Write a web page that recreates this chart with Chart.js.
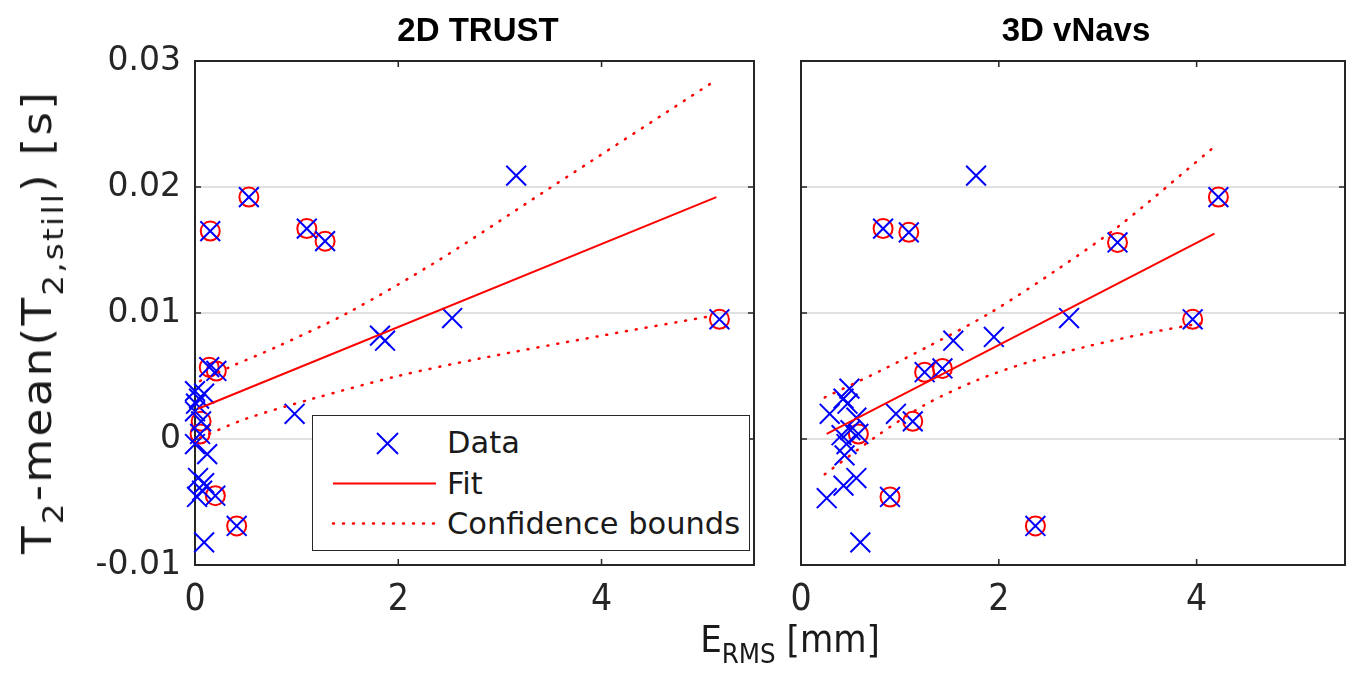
<!DOCTYPE html>
<html><head><meta charset="utf-8">
<script src="https://cdn.jsdelivr.net/npm/chart.js@4.4.1/dist/chart.umd.min.js"></script>
<style>
html,body{margin:0;padding:0;background:#fff;}
#wrap{position:relative;width:1361px;height:692px;overflow:hidden;font-family:"DejaVu Sans",sans-serif;color:#262626;}
canvas{position:absolute;top:0;}
#cA{left:0;} #cB{left:770px;}
.ttl{position:absolute;top:10px;font:bold 33px "Liberation Sans",Arial,sans-serif;color:#000;transform:translateX(-50%);white-space:nowrap;line-height:40px;}
#ylab{position:absolute;left:37px;top:322px;transform:translate(-50%,-50%) rotate(-90deg) scale(1.13,1);font-size:40px;letter-spacing:2px;white-space:nowrap;color:#1a1a1a;}
#xlab{position:absolute;left:790px;top:616px;transform:translateX(-50%);font-size:38px;white-space:nowrap;color:#1a1a1a;font-family:"DejaVu Sans Condensed","DejaVu Sans",sans-serif;line-height:46px;}
sub{font-size:0.72em;vertical-align:-0.4em;line-height:0;}
#legend{position:absolute;left:312px;top:415px;width:436px;height:134px;border:1.5px solid #262626;background:#fff;}
#legend svg{position:absolute;left:0;top:0;}
#legend .t{position:absolute;left:134px;font-size:30.5px;line-height:36px;transform:translateY(-50%);white-space:nowrap;color:#1a1a1a;}
</style></head>
<body><div id="wrap">
<canvas id="cA" width="770" height="692"></canvas>
<canvas id="cB" width="591" height="692"></canvas>
<div class="ttl" style="left:478px">2D TRUST</div>
<div class="ttl" style="left:1076px">3D vNavs</div>
<div id="ylab">T<sub>2</sub>-mean(T<sub>2,still</sub>) [s]</div>
<div id="xlab">E<sub>RMS</sub> [mm]</div>
<div id="legend">
<svg width="436" height="134">
<g stroke="#0000ff" stroke-width="2"><line x1="64" y1="17" x2="85" y2="38"/><line x1="64" y1="38" x2="85" y2="17"/></g>
<line x1="20" y1="67.5" x2="123" y2="67.5" stroke="#ff0000" stroke-width="2"/>
<line x1="20" y1="107.5" x2="123" y2="107.5" stroke="#ff0000" stroke-width="2.5" stroke-dasharray="1 9" stroke-linecap="round"/>
</svg>
<div class="t" style="top:27px">Data</div>
<div class="t" style="top:68px">Fit</div>
<div class="t" style="top:108px">Confidence bounds</div>
</div>
</div>
<script>
// ---- data ----
const yTickValues = [-0.01, 0, 0.01, 0.02, 0.03];
const yTickLabels = ['-0.01', '0', '0.01', '0.02', '0.03'];
const xTickValues = [0, 2, 4];
const xTickLabels = ['0', '2', '4'];

// 2D TRUST
const trustX = [0.53, 0.15, 1.10, 1.28, 3.16, 5.16, 2.53, 1.82, 1.87, 0.98, 0.14, 0.21, 0.00, 0.04, 0.09, 0.01, 0.00, 0.06, 0.05, 0.12, 0.00, 0.03, 0.09, 0.02, 0.07, 0.20, 0.41, 0.09];
const trustY = [0.0192, 0.0165, 0.0167, 0.0157, 0.0209, 0.0095, 0.0096, 0.0082, 0.0078, 0.0020, 0.0057, 0.0054, 0.0038, 0.0032, 0.0036, 0.0028, 0.0022, 0.0014, 0.0004, -0.0012, -0.0004, -0.0031, -0.0035, -0.0046, -0.0041, -0.0045, -0.0069, -0.0082];
const trustCircled = [1, 1, 1, 1, 0, 1, 0, 0, 0, 0, 1, 1, 0, 0, 0, 0, 0, 1, 1, 0, 0, 0, 0, 0, 0, 1, 1, 0];
const trustFitX = [0.03, 5.13];
const trustFitY = [0.0024, 0.0192];
const trustUpperX = [0.05, 0.34, 0.8, 1.5, 2.4, 3.45, 5.11];
const trustUpperY = [0.0046, 0.0057, 0.0073, 0.0100, 0.0142, 0.0197, 0.0284];
const trustLowerX = [0.05, 0.5, 1.16, 2.0, 2.81, 4.0, 5.11];
const trustLowerY = [0.0001, 0.0016, 0.0032, 0.0050, 0.0064, 0.0082, 0.0098];

// 3D vNavs
const vnavsX = [4.22, 0.83, 1.09, 3.20, 1.77, 3.96, 2.71, 1.95, 1.54, 0.96, 1.43, 1.25, 1.13, 0.58, 0.90, 2.37, 0.60, 0.49, 0.43, 0.29, 0.47, 0.56, 0.41, 0.46, 0.44, 0.50, 0.26, 0.43, 0.56];
const vnavsY = [0.0192, 0.0167, 0.0164, 0.0156, 0.0209, 0.0095, 0.0096, 0.0081, 0.0078, 0.0020, 0.0056, 0.0053, 0.0014, 0.0004, -0.0046, -0.0069, -0.0082, 0.0040, 0.0032, 0.0020, 0.0028, 0.0017, 0.0003, -0.0004, -0.0013, 0.0007, -0.0047, -0.0037, -0.0031];
const vnavsCircled = [1, 1, 1, 1, 0, 1, 0, 0, 0, 0, 1, 1, 1, 1, 1, 1, 0, 0, 0, 0, 0, 0, 0, 0, 0, 0, 0, 0, 0];
const vnavsFitX = [0.26, 4.18];
const vnavsFitY = [0.0004, 0.0163];
const vnavsUpperX = [0.24, 0.8, 1.3, 1.91, 2.6, 3.23, 4.18];
const vnavsUpperY = [0.0033, 0.0054, 0.0074, 0.0100, 0.0135, 0.0170, 0.0232];
const vnavsLowerX = [0.24, 0.76, 1.25, 1.79, 2.3, 2.87, 3.5, 4.13];
const vnavsLowerY = [-0.0028, 0.0002, 0.0027, 0.0047, 0.0061, 0.0073, 0.0084, 0.0093];

// ---- chart construction ----
Chart.defaults.font.family = '"DejaVu Sans", sans-serif';
Chart.defaults.color = '#262626';
const pts = (xs, ys) => xs.map((x, i) => ({x: x, y: ys[i]}));
const AXIS = '#262626';

const framePlugin = {
  id: 'frame',
  beforeDatasetsDraw(chart) {
    const {ctx, chartArea: a, scales} = chart;
    ctx.save();
    ctx.strokeStyle = AXIS; ctx.lineWidth = 2;
    ctx.strokeRect(a.left, a.top, a.right - a.left, a.bottom - a.top);
    ctx.lineWidth = 1.5;
    ctx.beginPath();
    const L = 6;
    yTickValues.forEach(v => {
      const py = scales.y.getPixelForValue(v);
      ctx.moveTo(a.left, py); ctx.lineTo(a.left + L, py);
      ctx.moveTo(a.right, py); ctx.lineTo(a.right - L, py);
    });
    xTickValues.forEach(v => {
      const px = scales.x.getPixelForValue(v);
      ctx.moveTo(px, a.bottom); ctx.lineTo(px, a.bottom - L);
      ctx.moveTo(px, a.top); ctx.lineTo(px, a.top + L);
    });
    ctx.stroke();
    ctx.restore();
  }
};

function makeChart(id, xs, ys, circ, fx, fy, ux, uy, lx, ly, showY, yWidth, padRight) {
  const data = pts(xs, ys);
  const circled = data.filter((p, i) => circ[i]);
  return new Chart(document.getElementById(id), {
    type: 'scatter',
    data: {datasets: [
      {label: 'Data', data: data, pointStyle: 'crossRot', pointRadius: 14, pointHoverRadius: 14,
       borderColor: '#0000ff', backgroundColor: '#0000ff', pointBorderWidth: 2, showLine: false, order: 1, clip: false},
      {label: 'circled', data: circled, pointStyle: 'circle', pointRadius: 9.5, pointHoverRadius: 9.5,
       borderColor: '#ff0000', backgroundColor: 'rgba(0,0,0,0)', pointBorderWidth: 2, showLine: false, order: 2, clip: false},
      {label: 'Fit', data: pts(fx, fy), showLine: true, borderColor: '#ff0000', borderWidth: 2, pointRadius: 0, order: 0, clip: false},
      {label: 'Confidence bounds', data: pts(ux, uy), showLine: true, borderColor: '#ff0000', borderWidth: 2.5,
       borderDash: [1, 9], borderCapStyle: 'round', pointRadius: 0, order: 0, clip: false, tension: 0.3},
      {label: 'lower', data: pts(lx, ly), showLine: true, borderColor: '#ff0000', borderWidth: 2.5,
       borderDash: [1, 9], borderCapStyle: 'round', pointRadius: 0, order: 0, clip: false, tension: 0.3}
    ]},
    options: {
      responsive: false, animation: false, devicePixelRatio: 1,
      layout: {padding: {top: 61, right: padRight, bottom: 0, left: 0}},
      plugins: {legend: {display: false}, tooltip: {enabled: false}, title: {display: false}},
      scales: {
        x: {type: 'linear', min: 0, max: 5.5,
            afterBuildTicks: s => { s.ticks = xTickValues.map(v => ({value: v})); },
            afterFit: s => { s.height = 127; },
            grid: {display: false, drawTicks: false}, border: {display: false},
            ticks: {padding: 13, color: '#262626',
                    font: {size: 37, family: '"DejaVu Sans Condensed", "Liberation Sans Narrow", "DejaVu Sans", sans-serif'},
                    callback: (v, i) => xTickLabels[i]}},
        y: {type: 'linear', min: -0.01, max: 0.03,
            afterBuildTicks: s => { s.ticks = yTickValues.map(v => ({value: v})); },
            afterFit: s => { s.width = yWidth; },
            grid: {drawTicks: false, lineWidth: 2,
                   color: c => (c.index > 0 && c.index < yTickValues.length - 1) ? '#e0e0e0' : 'rgba(0,0,0,0)'},
            border: {display: false},
            ticks: {display: showY, padding: 14, color: '#262626', font: {size: 33},
                    callback: (v, i) => yTickLabels[i]}}
      }
    },
    plugins: [framePlugin]
  });
}

makeChart('cA', trustX, trustY, trustCircled, trustFitX, trustFitY, trustUpperX, trustUpperY, trustLowerX, trustLowerY, true, 195, 12);
makeChart('cB', vnavsX, vnavsY, vnavsCircled, vnavsFitX, vnavsFitY, vnavsUpperX, vnavsUpperY, vnavsLowerX, vnavsLowerY, false, 31, 9);
</script>
</body></html>
